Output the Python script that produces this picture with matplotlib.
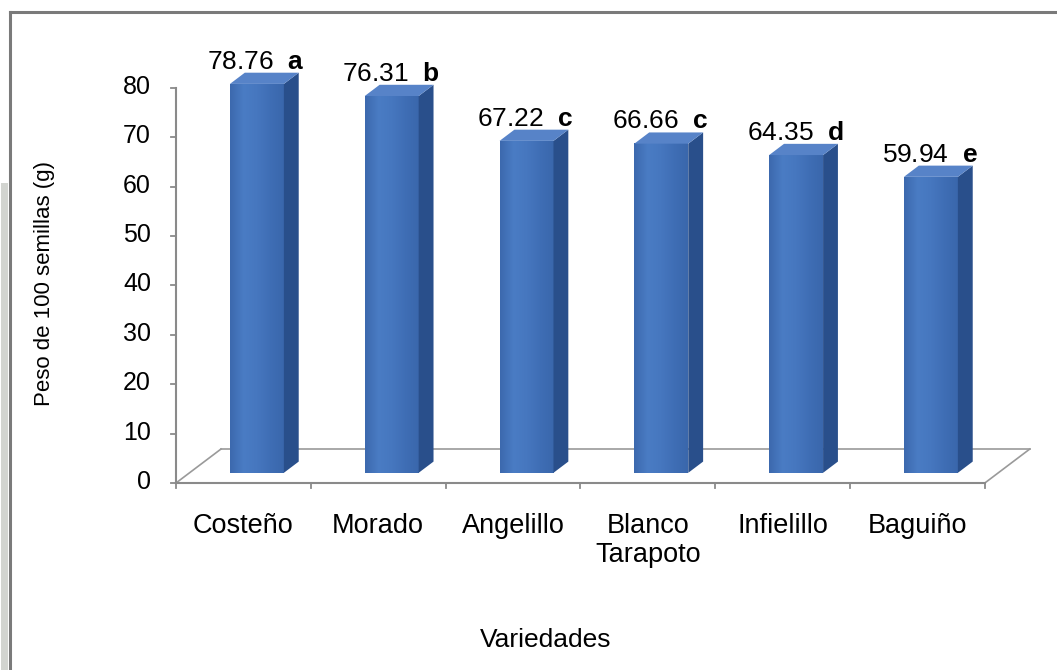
import matplotlib
matplotlib.use("Agg")
import matplotlib.pyplot as plt
import numpy as np
from matplotlib.patches import Polygon, Rectangle
from matplotlib.lines import Line2D
from matplotlib.colors import LinearSegmentedColormap

plt.rcParams['font.family'] = ['Liberation Sans', 'DejaVu Sans']
plt.rcParams['mathtext.fontset'] = 'custom'
plt.rcParams['mathtext.rm'] = 'Liberation Sans'
plt.rcParams['mathtext.bf'] = 'Liberation Sans:bold'

# ---- data ----
categories = ["Costeño", "Morado", "Angelillo", "Blanco\nTarapoto", "Infielillo", "Baguiño"]
values = [78.76, 76.31, 67.22, 66.66, 64.35, 59.94]
letters = ["a", "b", "c", "c", "d", "e"]
yticks = [0, 10, 20, 30, 40, 50, 60, 70, 80]
ylabel = "Peso de 100 semillas (g)"
xlabel = "Variedades"

# ---- figure / axes (data coords: x = category units, y = value units) ----
W, H = 1057, 670
fig = plt.figure(figsize=(W / 100, H / 100), dpi=100)
ax = fig.add_axes([0, 0, 1, 1])
ax.axis('off')

ncat = len(categories)
DX = 0.334   # depth -> x (category units)
DY = 6.886   # depth -> y (value units)
Z0, Z1 = 0.30, 0.63   # bar depth range
HALF = 0.20           # half bar width


def P(x, z, v):
    return (x + z * DX, v + z * DY)


grey = '#8a8a8a'
# floor
ax.add_line(Line2D(*zip(P(0, 1, 0), P(ncat, 1, 0)), color='#9a9a9a', lw=1.2, zorder=1))
ax.add_line(Line2D(*zip(P(0, 0, 0), P(0, 1, 0)), color='#9a9a9a', lw=1.2, zorder=1))
ax.add_line(Line2D(*zip(P(ncat, 0, 0), P(ncat, 1, 0)), color='#9a9a9a', lw=1.2, zorder=1))
ax.add_line(Line2D(*zip(P(0, 0, 0), P(ncat, 0, 0)), color=grey, lw=1.5, zorder=1))
# y axis
ax.add_line(Line2D([0, 0], [0, yticks[-1]], color=grey, lw=1.5, zorder=1))
for t in yticks:
    ax.add_line(Line2D([-0.037, 0], [t, t], color=grey, lw=1.3, zorder=1))
    ax.annotate(str(t), xy=(0, t), xytext=(-25, 1), textcoords='offset pixels',
                ha='right', va='center', fontsize=18, color='black')
# x ticks
for k in range(ncat + 1):
    ax.add_line(Line2D([k, k], [0, -1.0], color=grey, lw=1.3, zorder=1))

side_c = '#294F8B'
top_c = '#5783C8'
grad = LinearSegmentedColormap.from_list(
    'barface', ['#3C69AE', '#4A7CC4', '#4677BF', '#3F6EB5', '#3A67AC'])
gvals = np.linspace(0, 1, 64).reshape(1, -1)

for i, (v, lab) in enumerate(zip(values, letters)):
    c = i + 0.5
    xl, xr = c - HALF, c + HALF
    fx0, fy0 = P(xl, Z0, 0)
    fx1, fy1 = P(xr, Z0, v)
    ax.imshow(gvals, cmap=grad, extent=[fx0, fx1, fy0, fy1], aspect='auto',
              interpolation='bilinear', zorder=3)
    side = [P(xr, Z0, 0), P(xr, Z1, 0), P(xr, Z1, v), P(xr, Z0, v)]
    top = [P(xl, Z0, v), P(xr, Z0, v), P(xr, Z1, v), P(xl, Z1, v)]
    ax.add_patch(Polygon(side, closed=True, fc=side_c, ec='none', zorder=3))
    ax.add_patch(Polygon(top, closed=True, fc=top_c, ec='none', zorder=3))
    lx, _ = P(c, Z0, v)
    ax.annotate(f"{v:.2f}  $\\mathbf{{{lab}}}$", xy=(lx, v + Z1 * DY), xytext=(-1, 4),
                textcoords='offset pixels', ha='center', va='baseline',
                fontsize=19, color='black', zorder=5)
    ax.annotate(categories[i], xy=(c, 0), xytext=(0, -30), textcoords='offset pixels',
                ha='center', va='top', fontsize=19.5, color='black',
                linespacing=1.15, multialignment='center')

ax.set_xlim(-1.3056, 6.5356)
ax.set_ylim(-37.87, 97.82)

# axis titles
fig.text(45 / W, 1 - 283 / H, ylabel, rotation=90, ha='center', va='center', fontsize=16)
fig.text(546 / W, 1 - 640 / H, xlabel, ha='center', va='center', fontsize=19)

# outer frame
fig.add_artist(Line2D([10 / W, 1], [1 - 12 / H, 1 - 12 / H], transform=fig.transFigure,
                      color='#7a7a7a', lw=2.2))
fig.add_artist(Line2D([10 / W, 10 / W], [0, 1 - 12 / H], transform=fig.transFigure,
                      color='#7a7a7a', lw=2.2))
fig.add_artist(Rectangle((1 / W, 0), 7 / W, 1 - 183 / H, transform=fig.transFigure,
                         fc='#d2d4d0', ec='none'))

fig.savefig("out.png", dpi=100)
